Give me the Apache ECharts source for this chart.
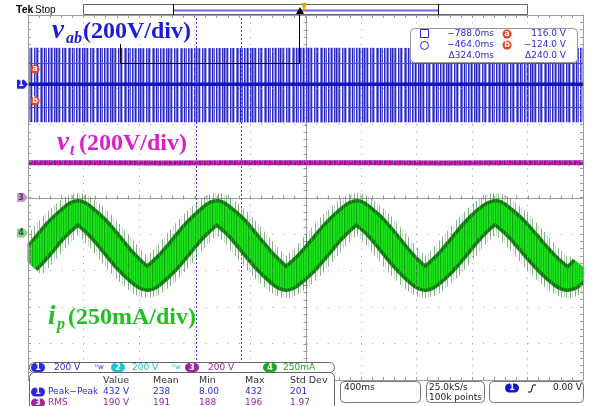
<!DOCTYPE html>
<html>
<head>
<meta charset="utf-8">
<title>Inverter waveforms</title>
<style>html,body{margin:0;padding:0;background:#fff;}#c{width:595px;height:406px;}</style>
<script src="https://cdn.jsdelivr.net/npm/echarts/dist/echarts.min.js"></script>
</head>
<body>
<div id="c"></div>
<script>
// ---- time base: 400 ms/div, 10 divisions, trigger at centre ----
const timeMin = -2.0, timeMax = 2.0, timeDiv = 0.4;

// ---- channel 1, v_ab (V): PWM envelope around 0 V ----
const vabTime = [-2.0, -1.0, 0.0, 1.0, 2.0];
const vabHigh = [200, 198, 200, 199, 200];
const vabLow  = [-208, -207, -209, -208, -208];
const vabMid  = [0, 0, 0, 0, 0];

// ---- channel 3, v_t (V) and channel 2 (V) ----
const vtTime   = [-2.0, -1.5, -1.0, -0.5, 0.0, 0.5, 1.0, 1.5, 2.0];
const vtValue  = [190, 191, 189, 190, 191, 190, 189, 191, 190];
const ch2Value = [186, 186, 186, 186, 186, 186, 186, 186, 186];

// ---- channel 4, i_p (mA): mean of the switching ripple ----
const ipTime = [-2.0, -1.9, -1.8, -1.7, -1.64, -1.6, -1.5, -1.4, -1.3, -1.2, -1.14, -1.1,
  -1.0, -0.9, -0.8, -0.7, -0.64, -0.6, -0.5, -0.4, -0.3, -0.2, -0.14, -0.1,
  0.0, 0.1, 0.2, 0.3, 0.37, 0.4, 0.5, 0.6, 0.7, 0.8, 0.86, 0.9,
  1.0, 1.1, 1.2, 1.3, 1.37, 1.4, 1.5, 1.6, 1.7, 1.8, 1.89, 2.0];
const ipCenter = [-200, -97, 17, 106, 143, 122, 36, -75, -190, -281, -315, -296,
  -208, -98, 16, 106, 143, 121, 38, -75, -188, -280, -315, -297,
  -212, -103, 9, 100, 143, 127, 44, -68, -183, -278, -315, -298,
  -212, -102, 12, 104, 143, 128, 47, -58, -168, -262, -315, -234];

// ---- cursors ----
const cursorTimes  = [-0.788, -0.464];   // s
const cursorLevels = [116.0, -124.0];    // V on channel 1

// ---- vertical scale and position of each channel (divisions from centre) ----
const ch1Scale = 200, ch1Pos = 3.1;
const ch3Scale = 200, ch3Pos = 0;
const ch4Scale = 250, ch4Pos = -0.97;

const pairs = (xs, ys) => xs.map((x, i) => [x, ys[i]]);
const chanAxis = (scale, pos) => ({
  type: 'value', show: false, min: (-5 - pos) * scale, max: (5 - pos) * scale,
  splitLine: { show: false }, axisLine: { show: false }
});

// vertical-stripe textures for the dense switching traces
function stripes(cols, h) {
  const c = document.createElement('canvas');
  c.width = cols.length; c.height = h || 2;
  const g = c.getContext('2d');
  cols.forEach((col, i) => { g.fillStyle = col; g.fillRect(i, 0, 1, c.height); });
  return { image: c, repeat: 'repeat' };
}
const T = 'rgba(0,0,0,0)';
const blueTex = stripes(['#2424bc','#8c8ce2','#7a7adc','#2a2ac0','#c0c0f0','#ffffff','#3030c4','#9a9ae6','#6a6ad6',
  '#2424bc','#b0b0ec','#ffffff','#8080de','#2828be','#7070d8','#d4d4f6','#2424bc','#9494e4','#5c5cd2',
  '#ffffff','#2a2ac0','#8888e0','#a8a8ea','#2424bc','#7c7cdc','#e6e6fa','#3434c6','#8c8ce2']);
const greenCore = stripes(['#16dc16','#10cc10','#1ee41e','#0fb40f','#18df18','#14d414','#12c212','#20e620',
  '#0ea60e','#16d816','#1ae21a','#10c810']);
const greenDark = stripes(['#0a7c0a','#0e8e0e','#067006','#129a12','#0a800a','#0c880c','#057005','#18a418']);
const greenHair = stripes(['rgba(20,110,20,0.55)', T, T, 'rgba(110,180,110,0.45)', T, 'rgba(30,120,30,0.5)', T, T, T,
  'rgba(40,130,40,0.6)', T, 'rgba(130,200,130,0.4)', T, T, 'rgba(20,100,20,0.5)', T, T]);
const purpleTex = stripes(['#8e1a8e','#c21cb4','#a01e9c','#d42ac4','#8a168a']);

const gridGray = '#9c9c9c';
const border = (pos) => ({
  type: 'value', position: pos, min: pos === 'left' || pos === 'right' ? -5 : timeMin,
  max: pos === 'left' || pos === 'right' ? 5 : timeMax,
  interval: pos === 'left' || pos === 'right' ? 1 : timeDiv,
  axisLine: { show: true, onZero: false, lineStyle: { color: gridGray, width: 1 } },
  axisTick: { show: true, inside: true, length: 3, lineStyle: { color: gridGray } },
  minorTick: { show: true, splitNumber: 5, length: 3, lineStyle: { color: gridGray } },
  axisLabel: { show: false },
  splitLine: { show: false },
  z: 20
});

const xBottom = border('bottom');
xBottom.splitLine = { show: true, lineStyle: { color: gridGray, width: 1, type: [1, 6.3] } };
const yLeft = border('left');
yLeft.splitLine = { show: true, lineStyle: { color: gridGray, width: 1, type: [1, 10.1] } };

const lineBase = { type: 'line', xAxisIndex: 0, symbol: 'none', silent: true, animation: false,
  emphasis: { disabled: true } };

const option = {
  animation: false,
  backgroundColor: '#ffffff',
  grid: { left: 28, right: 12, top: 15, bottom: 26, containLabel: false, outerBoundsMode: 'none' },
  xAxis: [xBottom, border('top')],
  yAxis: [yLeft, border('right'), chanAxis(ch1Scale, ch1Pos), chanAxis(ch3Scale, ch3Pos), chanAxis(ch4Scale, ch4Pos)],
  series: [
    { // centre crosshair with fine ticks
      type: 'custom', xAxisIndex: 0, yAxisIndex: 0, silent: true, z: 1,
      data: [[0, 0]],
      renderItem: (params, api) => {
        const kids = [];
        const L = api.coord([timeMin, 0]), R = api.coord([timeMax, 0]);
        const Tp = api.coord([0, 5]), B = api.coord([0, -5]);
        const st = { stroke: gridGray, lineWidth: 1 };
        kids.push({ type: 'line', shape: { x1: L[0], y1: Math.round(L[1]) + 0.5, x2: R[0], y2: Math.round(L[1]) + 0.5 }, style: st });
        kids.push({ type: 'line', shape: { x1: Math.round(Tp[0]) + 0.5, y1: Tp[1], x2: Math.round(Tp[0]) + 0.5, y2: B[1] }, style: st });
        for (let k = 0; k <= 50; k++) {
          const p = api.coord([timeMin + k * timeDiv / 5, 0]);
          kids.push({ type: 'line', shape: { x1: Math.round(p[0]) + 0.5, y1: p[1] - 2, x2: Math.round(p[0]) + 0.5, y2: p[1] + 2 }, style: st });
          const q = api.coord([0, -5 + k / 5]);
          kids.push({ type: 'line', shape: { x1: q[0] - 2, y1: Math.round(q[1]) + 0.5, x2: q[0] + 2, y2: Math.round(q[1]) + 0.5 }, style: st });
        }
        return { type: 'group', children: kids };
      }
    },
    Object.assign({}, lineBase, { name: 'vab+', yAxisIndex: 2, z: 3, data: pairs(vabTime, vabHigh),
      lineStyle: { width: 0, opacity: 0 }, areaStyle: { origin: 0, color: blueTex, opacity: 1 } }),
    Object.assign({}, lineBase, { name: 'vab-', yAxisIndex: 2, z: 3, data: pairs(vabTime, vabLow),
      lineStyle: { width: 0, opacity: 0 }, areaStyle: { origin: 0, color: blueTex, opacity: 1 } }),
    Object.assign({}, lineBase, { name: 'vab0', yAxisIndex: 2, z: 4, data: pairs(vabTime, vabMid),
      lineStyle: { width: 3.5, color: '#1414bc' },
      markLine: { silent: true, symbol: 'none', label: { show: false }, animation: false,
        lineStyle: { color: '#4646e6', width: 1, type: 'solid' },
        data: cursorLevels.map(v => ({ yAxis: v })) } }),
    Object.assign({}, lineBase, { name: 'ch2', yAxisIndex: 3, z: 5, data: pairs(vtTime, ch2Value),
      lineStyle: { width: 6, color: '#2aa6a6', type: [1, 9], opacity: 0.55 } }),
    Object.assign({}, lineBase, { name: 'vt', yAxisIndex: 3, z: 6, data: pairs(vtTime, vtValue),
      lineStyle: { width: 5, color: purpleTex } }),
    Object.assign({}, lineBase, { name: 'ip hair', yAxisIndex: 4, z: 7, smooth: 0.35, data: pairs(ipTime, ipCenter),
      lineStyle: { width: 38, color: greenHair } }),
    Object.assign({}, lineBase, { name: 'ip edge', yAxisIndex: 4, z: 8, smooth: 0.35, data: pairs(ipTime, ipCenter),
      lineStyle: { width: 26, color: greenDark } }),
    Object.assign({}, lineBase, { name: 'ip core', yAxisIndex: 4, z: 9, smooth: 0.35, data: pairs(ipTime, ipCenter),
      lineStyle: { width: 19, color: greenCore } }),
    Object.assign({}, lineBase, { name: 'cursors', yAxisIndex: 2, z: 10, data: [],
      markLine: { silent: true, symbol: 'none', label: { show: false }, animation: false,
        lineStyle: { color: '#3b3be8', width: 1, type: [2, 2] },
        data: cursorTimes.map(t => ({ xAxis: t })) } })
  ]
};

const chart = echarts.init(document.getElementById('c'), null, { renderer: 'canvas' });
chart.setOption(option);

// ---- on-screen readouts ----
const BLUE = '#2b2bd6', CYAN = '#1ec2d4', PURPLE = '#a0229e', GREEN = '#1ea81e', RED = '#e8401c';
const F = '"DejaVu Sans", sans-serif';
const SANS = '"Liberation Sans", Arial, sans-serif';
const g = [];
const text = (x, y, s, o) => g.push({ type: 'text', x, y, z: 100, silent: true,
  style: Object.assign({ text: s, font: '9px ' + F, fill: '#222', verticalAlign: 'middle', align: 'left' }, o || {}) });
const rect = (x, y, w, h, o) => g.push({ type: 'rect', z: (o && o.z) || 99, silent: true, shape: { x, y, width: w, height: h, r: (o && o.r) || 0 },
  style: Object.assign({ fill: '#fff', stroke: '#777', lineWidth: 1 }, o && o.style) });
const pill = (x, y, n, col) => {
  g.push({ type: 'rect', z: 100, silent: true, shape: { x, y: y - 4.5, width: 14, height: 9, r: 4.5 }, style: { fill: col } });
  text(x + 7, y, n, { fill: '#fff', font: 'bold 8px ' + F, align: 'center' });
};
const tag = (y, n, col, tc) => {
  g.push({ type: 'polygon', z: 100, silent: true,
    shape: { points: [[17, y - 4.5], [24, y - 4.5], [28, y], [24, y + 4.5], [17, y + 4.5]] }, style: { fill: col } });
  text(21, y, n, { fill: tc, font: 'bold 8px ' + F, align: 'center' });
};
const dot = (x, y, n) => {
  g.push({ type: 'circle', z: 100, silent: true, shape: { cx: x, cy: y, r: 4.5 }, style: { fill: RED } });
  text(x, y, n, { fill: '#fff', font: 'bold 8px ' + F, align: 'center' });
};

// white margins so the wide traces stop at the graticule frame
rect(0, 15, 27.5, 366, { z: 10, style: { stroke: null } });
rect(583.6, 15, 12, 366, { z: 10, style: { stroke: null } });

// header
text(16, 10, 'Tek', { fill: '#000', font: 'bold 10.5px ' + SANS });
text(35, 10, 'Stop', { fill: '#000', font: '10px ' + SANS });
rect(83.5, 4.5, 444, 10, { style: { stroke: '#666' } });
g.push({ type: 'line', z: 100, silent: true, shape: { x1: 173, y1: 10.5, x2: 438, y2: 10.5 }, style: { stroke: '#6a6ae8', lineWidth: 2 } });
g.push({ type: 'line', z: 100, silent: true, shape: { x1: 173.5, y1: 4, x2: 173.5, y2: 15 }, style: { stroke: '#000', lineWidth: 1 } });
g.push({ type: 'line', z: 100, silent: true, shape: { x1: 438.5, y1: 4, x2: 438.5, y2: 15 }, style: { stroke: '#000', lineWidth: 1 } });
g.push({ type: 'polygon', z: 101, silent: true, shape: { points: [[296, 14], [300, 7], [304, 14]] }, style: { fill: '#000' } });
g.push({ type: 'polygon', z: 101, silent: true, shape: { points: [[301, 3], [307, 3], [304, 12]] }, style: { fill: '#f0a020' } });

// zoom bracket
g.push({ type: 'polyline', z: 50, silent: true, shape: { points: [[120.5, 44], [120.5, 63.5], [299.5, 63.5], [299.5, 15]] },
  style: { stroke: '#000', lineWidth: 1, fill: null } });

// channel ground markers and cursor markers
const yCh1 = chart.convertToPixel({ yAxisIndex: 2 }, 0);
const yCh3 = chart.convertToPixel({ yAxisIndex: 3 }, 0);
const yCh4 = chart.convertToPixel({ yAxisIndex: 4 }, 0);
tag(yCh1, '1', '#2020d8', '#fff');
tag(yCh3, '3', '#c79ad0', '#6a2a6a');
tag(yCh4, '4', '#8fcf8f', '#206020');
dot(35, chart.convertToPixel({ yAxisIndex: 2 }, cursorLevels[0]) + 6, 'a');
dot(35, chart.convertToPixel({ yAxisIndex: 2 }, cursorLevels[1]) - 6, 'b');

// waveform captions
const serif = '"Liberation Serif", "Times New Roman", serif';
text(52, 31, 'v', { fill: '#1c1cd6', font: 'italic bold 27px ' + serif });
text(66, 39, 'ab', { fill: '#1c1cd6', font: 'italic bold 16px ' + serif });
text(83, 32, '(200V/div)', { fill: '#1c1cd6', font: 'bold 24px ' + serif });
text(57, 143, 'v', { fill: '#dc20c8', font: 'italic bold 27px ' + serif });
text(70, 151, 't', { fill: '#dc20c8', font: 'italic bold 16px ' + serif });
text(79, 144, '(200V/div)', { fill: '#dc20c8', font: 'bold 24px ' + serif });
text(48, 317, 'i', { fill: '#22c022', font: 'italic bold 27px ' + serif });
text(57, 325, 'p', { fill: '#22c022', font: 'italic bold 16px ' + serif });
text(68, 318, '(250mA/div)', { fill: '#22c022', font: 'bold 24px ' + serif });

// cursor readout
rect(410.5, 28.5, 167, 34, { r: 4, style: { stroke: '#999' } });
g.push({ type: 'rect', z: 100, silent: true, shape: { x: 420.5, y: 29.5, width: 8, height: 8 }, style: { fill: null, stroke: BLUE } });
g.push({ type: 'circle', z: 100, silent: true, shape: { cx: 424.5, cy: 45.5, r: 4 }, style: { fill: null, stroke: BLUE } });
text(494, 34, '\u2212788.0ms', { fill: BLUE, align: 'right' });
text(494, 45, '\u2212464.0ms', { fill: BLUE, align: 'right' });
text(494, 56, '\u0394324.0ms', { fill: BLUE, align: 'right' });
dot(507, 34, 'a');
dot(507, 45, 'b');
text(566, 34, '116.0 V', { fill: BLUE, align: 'right' });
text(566, 45, '\u2212124.0 V', { fill: BLUE, align: 'right' });
text(566, 56, '\u0394240.0 V', { fill: BLUE, align: 'right' });

// channel scale bar
rect(29.5, 362.5, 305, 10, { r: 5, style: { stroke: '#666' } });
pill(31, 367.5, '1', BLUE); text(54, 367.5, '200 V', { fill: BLUE });
text(95, 367.5, '\u1d47w', { fill: BLUE, font: '7px ' + F });
pill(111, 367.5, '2', CYAN); text(132, 367.5, '200 V', { fill: CYAN });
text(172, 367.5, '\u1d47w', { fill: CYAN, font: '7px ' + F });
pill(185, 367.5, '3', PURPLE); text(208, 367.5, '200 V', { fill: PURPLE });
pill(263, 367.5, '4', GREEN); text(283, 367.5, '250mA', { fill: GREEN });

// measurement table
rect(29.5, 372.5, 305, 40, { r: 5, style: { stroke: '#666' } });
const cols = [103, 153, 199, 245, 290];
['Value', 'Mean', 'Min', 'Max', 'Std Dev'].forEach((s, i) => text(cols[i], 380.5, s, { fill: '#333', font: '9.5px ' + F }));
pill(31, 392, '1', BLUE); text(48, 392, 'Peak\u2212Peak', { fill: BLUE });
['432 V', '238', '8.00', '432', '201'].forEach((s, i) => text(cols[i], 392, s, { fill: BLUE }));
pill(31, 403, '3', PURPLE); text(48, 403, 'RMS', { fill: PURPLE });
['190 V', '191', '188', '196', '1.97'].forEach((s, i) => text(cols[i], 403, s, { fill: PURPLE }));

// acquisition and trigger boxes
rect(340.5, 381.5, 80, 21, { r: 4, style: { stroke: '#777' } });
text(344, 388, '400ms', { fill: '#222' });
rect(426.5, 381.5, 58, 21, { r: 4, style: { stroke: '#777' } });
text(429, 388, '25.0kS/s', { fill: '#222' });
text(429, 397.5, '100k points', { fill: '#222' });
rect(489.5, 381.5, 94, 21, { r: 4, style: { stroke: '#777' } });
pill(505, 388, '1', '#1414d8');
g.push({ type: 'polyline', z: 100, silent: true, shape: { points: [[528, 392], [531, 392], [533, 385], [536, 385]] }, style: { stroke: '#000', fill: null, lineWidth: 1 } });
text(582, 388, '0.00 V', { fill: '#222', align: 'right' });

chart.setOption({ graphic: g });
</script>
</body>
</html>
